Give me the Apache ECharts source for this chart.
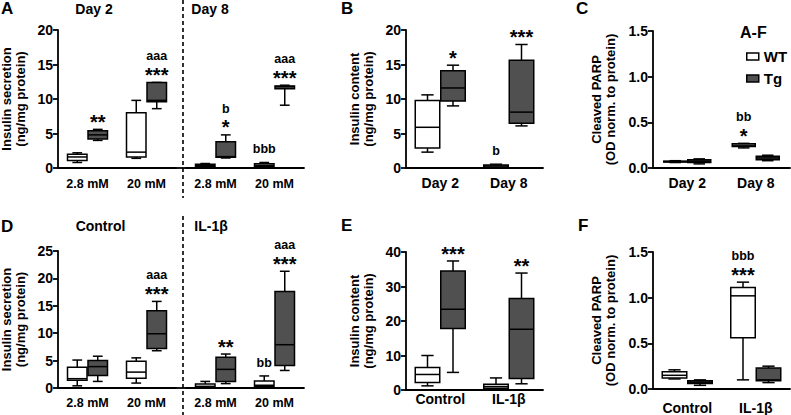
<!DOCTYPE html>
<html>
<head>
<meta charset="utf-8">
<script src="https://cdn.jsdelivr.net/npm/echarts@6/dist/echarts.min.js"></script>
<style>
html,body{margin:0;padding:0;background:#fff}
#chart{width:791px;height:415px}
</style>
</head>
<body>
<div id="chart"></div>
<script>
// ---------------- DATA (box values: [min, Q1, median, Q3, max]) ----------------
// Panel A: insulin secretion, Day 2 / Day 8
const catA = ['2.8 mM', '20 mM'];
const ticksA = [0, 5, 10, 15, 20];
const aDay2WT = [[0.8, 1.1, 1.6, 2.0, 2.2], [1.4, 1.6, 2.3, 8.0, 9.8]];
const aDay2Tg = [[4.0, 4.2, 4.8, 5.4, 5.6], [8.6, 9.6, 9.8, 12.4, 12.4]];
const aDay8WT = [[0.15, 0.2, 0.35, 0.55, 0.65], [0.15, 0.25, 0.4, 0.6, 0.8]];
const aDay8Tg = [[1.45, 1.55, 1.65, 3.8, 4.8], [9.1, 11.5, 11.8, 11.9, 12.0]];
const aDay2TgStars = ['**', '***'];
const aDay2TgLetters = ['', 'aaa'];
const aDay8WTLetters = ['', 'bbb'];
const aDay8TgStars = ['*', '***'];
const aDay8TgLetters = ['b', 'aaa'];

// Panel B: insulin content
const catB = ['Day 2', 'Day 8'];
const ticksB = [0, 5, 10, 15, 20];
const bWT = [[2.3, 2.9, 5.9, 9.8, 10.6], [0.1, 0.15, 0.3, 0.45, 0.55]];
const bTg = [[9.0, 9.7, 11.6, 14.1, 14.9], [6.1, 6.5, 8.1, 15.6, 17.9]];
const bWTLetters = ['', 'b'];
const bTgStars = ['*', '***'];

// Panel C: cleaved PARP
const catC = ['Day 2', 'Day 8'];
const ticksC = [0, 0.5, 1.0, 1.5];
const cWT = [[0.06, 0.065, 0.07, 0.075, 0.08], [0.22, 0.235, 0.25, 0.265, 0.27]];
const cTg = [[0.045, 0.06, 0.075, 0.09, 0.1], [0.08, 0.09, 0.11, 0.13, 0.14]];
const cWTStars = ['', '*'];
const cWTLetters = ['', 'bb'];

// Panel D: insulin secretion, Control / IL-1β
const catD = ['2.8 mM', '20 mM'];
const ticksD = [0, 5, 10, 15, 20, 25];
const dCtrlWT = [[0.4, 1.4, 1.7, 3.8, 5.1], [0.9, 1.8, 2.9, 4.9, 5.5]];
const dCtrlTg = [[1.2, 2.3, 3.9, 5.0, 5.8], [6.8, 7.2, 9.9, 14.1, 15.8]];
const dIlWT = [[0.05, 0.1, 0.3, 0.75, 1.2], [0.1, 0.3, 0.5, 1.3, 2.2]];
const dIlTg = [[0.8, 1.2, 3.4, 5.6, 6.2], [3.2, 4.1, 7.9, 17.6, 21.3]];
const dCtrlTgStars = ['', '***'];
const dCtrlTgLetters = ['', 'aaa'];
const dIlWTLetters = ['', 'bb'];
const dIlTgStars = ['**', '***'];
const dIlTgLetters = ['', 'aaa'];

// Panel E: insulin content
const catE = ['Control', 'IL-1β'];
const ticksE = [0, 10, 20, 30, 40];
const eWT = [[1.2, 2.2, 4.5, 6.5, 10.0], [0.2, 0.5, 1.0, 1.7, 3.5]];
const eTg = [[5.1, 17.8, 23.4, 34.5, 37.4], [1.8, 3.3, 17.6, 26.5, 33.9]];
const eTgStars = ['***', '**'];

// Panel F: cleaved PARP
const catF = ['Control', 'IL-1β'];
const ticksF = [0, 0.5, 1.0, 1.5];
const fWT = [[0.11, 0.12, 0.15, 0.19, 0.21], [0.1, 0.56, 1.02, 1.11, 1.17]];
const fTg = [[0.04, 0.06, 0.075, 0.09, 0.1], [0.07, 0.09, 0.1, 0.23, 0.25]];
const fWTStars = ['', '***'];
const fWTLetters = ['', 'bbb'];

// ---------------- STYLE ----------------
const FONT = '"Liberation Sans", Arial, Helvetica, sans-serif';
const TG_FILL = '#505050';
const WT_FILL = '#ffffff';
const AXW = 1.8;

const grids = [
  {left: 58, top: 30, width: 118, height: 138},   // 0 A day2
  {left: 186, top: 30, width: 118, height: 138},  // 1 A day8
  {left: 406, top: 30, width: 137, height: 138},  // 2 B
  {left: 653, top: 31, width: 137, height: 137},  // 3 C
  {left: 58, top: 251, width: 118, height: 137},  // 4 D ctrl
  {left: 186, top: 251, width: 118, height: 137}, // 5 D IL
  {left: 406, top: 252, width: 137, height: 138}, // 6 E
  {left: 653, top: 252, width: 137, height: 137}  // 7 F
].map(g => Object.assign({outerBoundsMode: 'none', containLabel: false}, g));

function yAx(gi, ticks, name, nameGap, show, dec) {
  return {
    type: 'value', gridIndex: gi, show: show,
    min: ticks[0], max: ticks[ticks.length - 1], interval: ticks[1] - ticks[0],
    name: name, nameLocation: 'middle', nameGap: nameGap, nameRotate: 90,
    nameMoveOverlap: false,
    nameTextStyle: {fontSize: 13, fontWeight: 'bold', fontFamily: FONT, color: '#000', lineHeight: 14},
    axisLine: {show: true, lineStyle: {color: '#000', width: AXW}},
    axisTick: {show: true, length: 5, lineStyle: {color: '#000', width: AXW}},
    axisLabel: {margin: 5, fontSize: 14, fontWeight: 'bold', fontFamily: FONT, color: '#000',
      formatter: v => dec ? v.toFixed(dec) : String(v)},
    splitLine: {show: false}
  };
}
function xAx(gi, cats, margin, fs) {
  return {
    type: 'category', gridIndex: gi, data: cats, boundaryGap: true,
    axisLine: {show: true, onZero: false, lineStyle: {color: '#000', width: AXW}},
    axisTick: {show: false},
    axisLabel: {interval: 0, margin: margin, fontSize: fs, fontWeight: 'bold', fontFamily: FONT, color: '#000'},
    splitLine: {show: false}
  };
}

function boxSeries(name, axisIdx, cats, vals, fill, side, boxW, stars, letters) {
  return {
    type: 'custom', name: name, xAxisIndex: axisIdx, yAxisIndex: axisIdx,
    data: cats.map((c, i) => [c].concat(vals[i])),
    encode: {x: 0, y: [1, 2, 3, 4, 5]},
    clip: false, silent: true, animation: false,
    itemStyle: {color: fill, borderColor: '#000'},
    renderItem: function (params, api) {
      const i = params.dataIndex;
      const cat = api.value(0);
      const p = k => api.coord([cat, api.value(k)]);
      const c = p(1)[0];
      const x = c + side * (boxW / 2 + 0.5);
      const yMin = p(1)[1], yQ1 = p(2)[1], yMed = p(3)[1], yQ3 = p(4)[1], yMax = p(5)[1];
      const h = boxW / 2, cap = boxW / 4;
      const ls = {stroke: '#000', lineWidth: 1.5, fill: null};
      const ch = [
        {type: 'line', shape: {x1: x, y1: yQ3, x2: x, y2: yMax}, style: ls},
        {type: 'line', shape: {x1: x, y1: yQ1, x2: x, y2: yMin}, style: ls},
        {type: 'line', shape: {x1: x - cap, y1: yMax, x2: x + cap, y2: yMax}, style: ls},
        {type: 'line', shape: {x1: x - cap, y1: yMin, x2: x + cap, y2: yMin}, style: ls},
        {type: 'rect', shape: {x: x - h, y: yQ3, width: boxW, height: Math.max(yQ1 - yQ3, 0.5)},
          style: {fill: fill, stroke: '#000', lineWidth: 1.5}},
        {type: 'line', shape: {x1: x - h, y1: yMed, x2: x + h, y2: yMed}, style: ls}
      ];
      const st = stars ? stars[i] : '';
      const le = letters ? letters[i] : '';
      if (st) ch.push({type: 'text', style: {text: st, x: x, y: yMax - 7.4, align: 'center', verticalAlign: 'middle',
        fontSize: 20, fontWeight: 'bold', fontFamily: FONT, fill: '#000'}});
      if (le) ch.push({type: 'text', style: {text: le, x: x, y: st ? yMax - 26 : yMax - 13, align: 'center',
        verticalAlign: 'middle', fontSize: 12.5, fontWeight: 'bold', fontFamily: FONT, fill: '#000'}});
      return {type: 'group', children: ch};
    }
  };
}

const NAME_SEC = 'Insulin secretion\n(ng/mg protein)';
const NAME_CONT = 'Insulin content\n(ng/mg protein)';
const NAME_PARP = 'Cleaved PARP\n(OD norm. to protein)';

const xAxes = [
  xAx(0, catA, 9, 12.5), xAx(1, catA, 9, 12.5),
  xAx(2, catB, 8, 14), xAx(3, catC, 8, 14),
  xAx(4, catD, 8, 12.5), xAx(5, catD, 8, 12.5),
  xAx(6, catE, 2, 14), xAx(7, catF, 11.5, 14)
];
const yAxes = [
  yAx(0, ticksA, NAME_SEC, 31, true, 0), yAx(1, ticksA, '', 0, false, 0),
  yAx(2, ticksB, NAME_CONT, 31, true, 0), yAx(3, ticksC, NAME_PARP, 36, true, 1),
  yAx(4, ticksD, NAME_SEC, 31, true, 0), yAx(5, ticksD, '', 0, false, 0),
  yAx(6, ticksE, NAME_CONT, 31, true, 0), yAx(7, ticksF, NAME_PARP, 36, true, 1)
];

const SW = 19.5, LW = 24.5;
const series = [
  boxSeries('WT', 0, catA, aDay2WT, WT_FILL, -1, SW, null, null),
  boxSeries('Tg', 0, catA, aDay2Tg, TG_FILL, 1, SW, aDay2TgStars, aDay2TgLetters),
  boxSeries('WT', 1, catA, aDay8WT, WT_FILL, -1, SW, null, aDay8WTLetters),
  boxSeries('Tg', 1, catA, aDay8Tg, TG_FILL, 1, SW, aDay8TgStars, aDay8TgLetters),
  boxSeries('WT', 2, catB, bWT, WT_FILL, -1, LW, null, bWTLetters),
  boxSeries('Tg', 2, catB, bTg, TG_FILL, 1, LW, bTgStars, null),
  boxSeries('WT', 3, catC, cWT, WT_FILL, -1, 23, cWTStars, cWTLetters),
  boxSeries('Tg', 3, catC, cTg, TG_FILL, 1, 23, null, null),
  boxSeries('WT', 4, catD, dCtrlWT, WT_FILL, -1, SW, null, null),
  boxSeries('Tg', 4, catD, dCtrlTg, TG_FILL, 1, SW, dCtrlTgStars, dCtrlTgLetters),
  boxSeries('WT', 5, catD, dIlWT, WT_FILL, -1, SW, null, dIlWTLetters),
  boxSeries('Tg', 5, catD, dIlTg, TG_FILL, 1, SW, dIlTgStars, dIlTgLetters),
  boxSeries('WT', 6, catE, eWT, WT_FILL, -1, LW, null, null),
  boxSeries('Tg', 6, catE, eTg, TG_FILL, 1, LW, eTgStars, null),
  boxSeries('WT', 7, catF, fWT, WT_FILL, -1, LW, fWTStars, fWTLetters),
  boxSeries('Tg', 7, catF, fTg, TG_FILL, 1, LW, null, null)
];

function txt(s, x, y, fs, align) {
  return {type: 'text', x: x, y: y, silent: true,
    style: {text: s, align: align || 'left', verticalAlign: 'middle', fontSize: fs, fontWeight: 'bold',
      fontFamily: FONT, fill: '#000'}};
}
function ln(x1, y1, x2, y2, dash) {
  return {type: 'line', silent: true, shape: {x1: x1, y1: y1, x2: x2, y2: y2},
    style: {stroke: '#000', lineWidth: dash ? 1.6 : AXW, lineDash: dash || null}};
}

const graphic = [
  txt('A', 1, 8.7, 17), txt('B', 341, 8.2, 17), txt('C', 576, 8.7, 17),
  txt('D', 1, 226, 17), txt('E', 341, 225, 17), txt('F', 578, 225, 17),
  txt('Day 2', 94, 9, 14, 'center'), txt('Day 8', 210, 9, 14, 'center'),
  txt('Control', 100.5, 226, 14, 'center'), txt('IL-1β', 211, 226, 14, 'center'),
  txt('A-F', 740, 32.5, 16),
  ln(176, 168, 186, 168), ln(176, 388, 186, 388),
  ln(183, 0, 183, 198, [4, 3]), ln(183, 216, 183, 415, [4, 3])
];

const chart = echarts.init(document.getElementById('chart'), null, {renderer: 'svg', width: 791, height: 415});
chart.setOption({
  backgroundColor: '#ffffff',
  animation: false,
  textStyle: {fontFamily: FONT},
  grid: grids,
  xAxis: xAxes,
  yAxis: yAxes,
  legend: {
    orient: 'vertical', left: 741, top: 44, icon: 'rect', itemWidth: 12, itemHeight: 7, itemGap: 7,
    selectedMode: false,
    textStyle: {fontSize: 15, fontWeight: 'bold', fontFamily: FONT, color: '#000'},
    data: [
      {name: 'WT', itemStyle: {color: WT_FILL, borderColor: '#000', borderWidth: 1.5}},
      {name: 'Tg', itemStyle: {color: TG_FILL, borderColor: '#000', borderWidth: 1.5}}
    ]
  },
  graphic: graphic,
  series: series
});
</script>
</body>
</html>
